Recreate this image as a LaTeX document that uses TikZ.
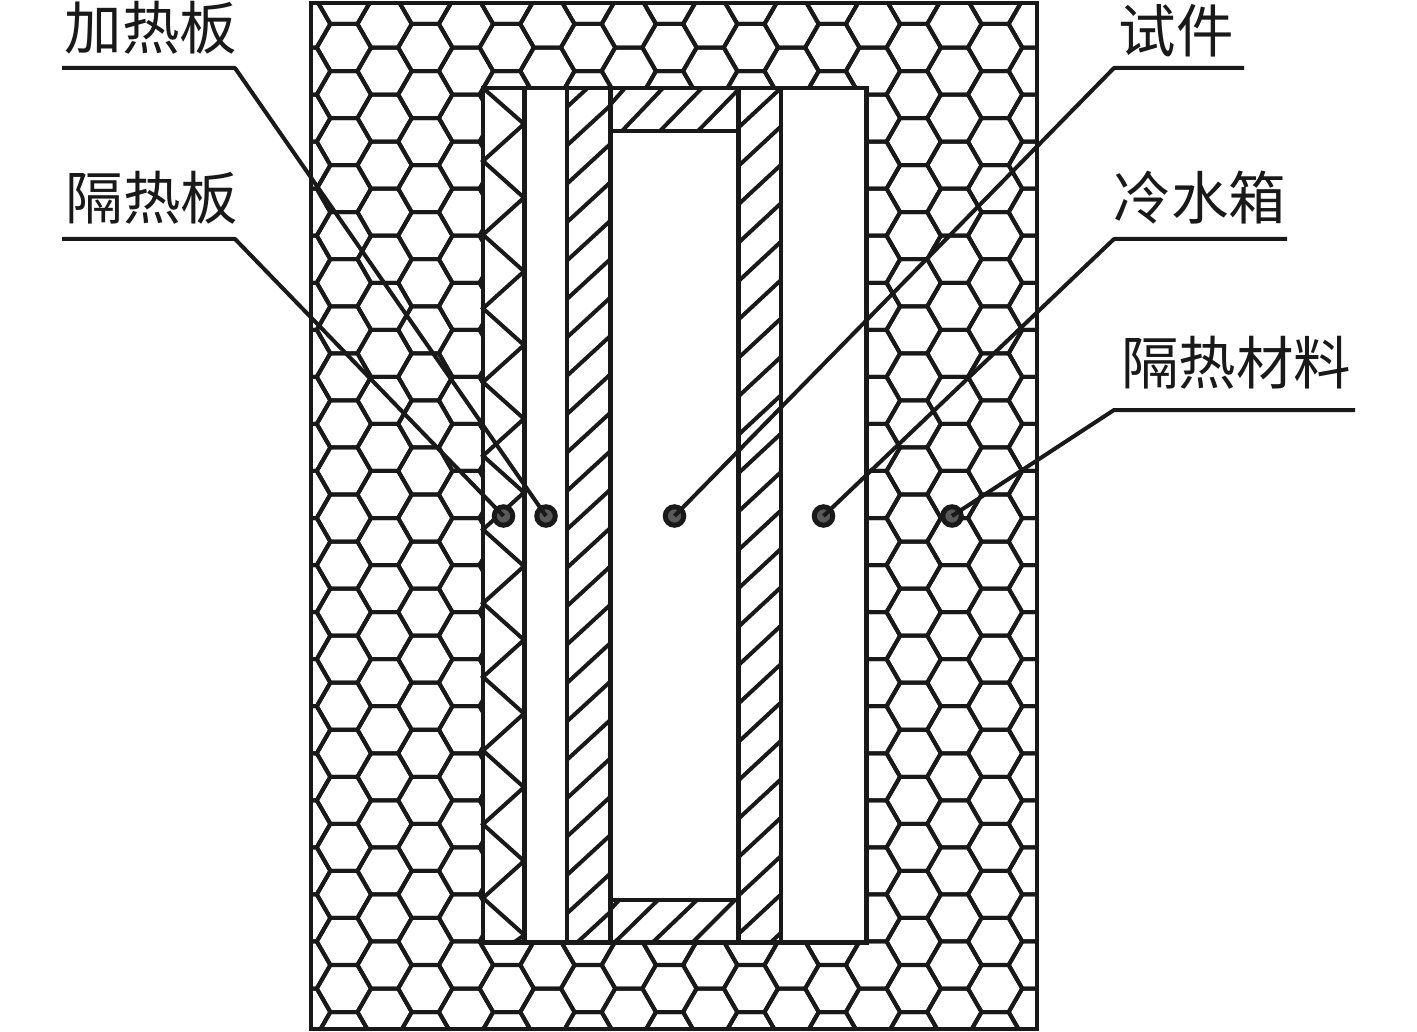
\documentclass[tikz,border=0pt]{standalone}
\usepackage{fontspec}
\newfontfamily\cjk{Noto Sans CJK SC}
\tikzset{
  hexline/.style={line width=4pt,line join=round,draw=black!90},
  wall/.style={line width=4.6pt,draw=black!90,line join=miter},
  thin wall/.style={line width=4.4pt,draw=black!90},
  hatchline/.style={line width=4pt,draw=black!90},
  leader/.style={line width=4pt,draw=black!90,line join=round},
  lbl/.style={font=\cjk\fontsize{57.5}{57.5}\selectfont,text=black!90,inner sep=0pt,anchor=center},
  dot/.style={circle,minimum size=18.5pt,inner sep=0pt,line width=5pt,draw=black!90,fill=black!65}
}
\begin{document}
\begin{tikzpicture}[x=1pt,y=-1pt]
\useasboundingbox (0,0) rectangle (1417,1032);
\fill[white] (0,0) rectangle (1417,1032);
% honeycomb insulation
\begin{scope}
\clip (311,3) rectangle (1037,1029);
\foreach \c in {-1,...,18}{
  \foreach \k in {-2,...,22}{
    \pgfmathsetmacro\xc{343.9+\c*40.7}
    \pgfmathsetmacro\yc{47.52+47.05*\k+(mod(\c+2,2)==1?23.52:0)}
    \draw[hexline] (\xc-27.13,\yc)--(\xc-13.57,\yc-23.52)--(\xc+13.57,\yc-23.52)--(\xc+27.13,\yc)--(\xc+13.57,\yc+23.52)--(\xc-13.57,\yc+23.52)--cycle;
  }
}
\end{scope}
\draw[wall] (311,3) rectangle (1037,1029);
% inner chamber
\fill[white] (483,88) rectangle (866,942);
% zigzag insulation plate
\draw[hatchline,line join=miter]
  (483,88) -- (524,124)
  \foreach \n in {0,...,10}{ -- (483,161+73.7*\n) -- (524,198-0.3+73.7*\n) } ;
\draw[hatchline] (524.5,935) -- (513,943);
% hatched specimen
\begin{scope}
\clip (567,88) rectangle (610.5,942);
\foreach \k in {0,...,22}{
  \draw[hatchline] (567,107+38.4*\k) -- (610.5,67+38.4*\k);
}
\end{scope}
\begin{scope}
\clip (738,88) rectangle (781,942);
\foreach \k in {0,...,22}{
  \draw[hatchline] (738,128+38.4*\k) -- (781,88+38.4*\k);
}
\end{scope}
\draw[hatchline] (610,105) -- (625,88);
\draw[hatchline] (610,910) -- (620,899);
\draw[hatchline] (622,131) -- (663,88);
\draw[hatchline] (660,131) -- (702,88);
\draw[hatchline] (698,131) -- (738,90);
\draw[hatchline] (615,942) -- (658,900);
\draw[hatchline] (653,942) -- (697,900);
\draw[hatchline] (693,942) -- (735,900);
% walls of the chamber
\draw[wall] (483,88) rectangle (866.5,942.5);
\draw[line width=5.6pt,draw=black!90] (524.5,88) -- (524.5,942);
\draw[thin wall] (567,88) -- (567,942);
\draw[thin wall] (610.5,88) -- (610.5,942);
\draw[thin wall] (738.5,88) -- (738.5,942);
\draw[thin wall] (781,88) -- (781,942);
\draw[thin wall] (610.5,131) -- (738.5,131);
\draw[thin wall] (610.5,900) -- (738.5,900);
% labels
\node[lbl] (lA) at (151,28) {加热板};
\node[lbl] (lB) at (152,198) {隔热板};
\node[lbl] (lC) at (1176,31) {试件};
\node[lbl] (lD) at (1200,198) {冷水箱};
\node[lbl] (lE) at (1236,363) {隔热材料};
% measuring points
\node[dot] (dA) at (546,516) {};
\node[dot] (dB) at (503.5,516) {};
\node[dot] (dC) at (674.5,516) {};
\node[dot] (dD) at (823.5,516) {};
\node[dot] (dE) at (952,516) {};
% leader free ends
\coordinate (a0) at (62,68);   \coordinate (a1) at (235,68);
\coordinate (b0) at (62,239);  \coordinate (b1) at (235,239);
\coordinate (c0) at (1244,68); \coordinate (c1) at (1114,68);
\coordinate (d0) at (1287,239);\coordinate (d1) at (1114,239);
\coordinate (e0) at (1355,410);\coordinate (e1) at (1114,410);
\draw[leader] (a0) -- (a1) -- (dA.center);
\draw[leader] (b0) -- (b1) -- (dB.center);
\draw[leader] (c0) -- (c1) -- (dC.center);
\draw[leader] (d0) -- (d1) -- (dD.center);
\draw[leader] (e0) -- (e1) -- (dE.center);
\end{tikzpicture}
\end{document}
